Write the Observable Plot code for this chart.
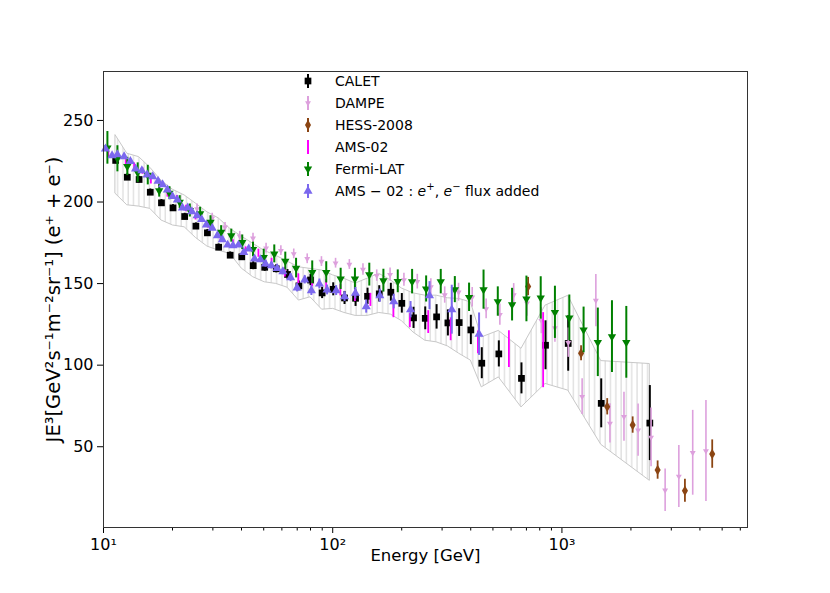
<!DOCTYPE html>
<html>
<head>
<meta charset="utf-8">
<script src="https://cdn.jsdelivr.net/npm/d3@7"></script>
<script src="https://cdn.jsdelivr.net/npm/@observablehq/plot@0.6"></script>
<style>
  html, body { margin: 0; padding: 0; background: #fff; }
  #chart { width: 830px; height: 593px; }
</style>
</head>
<body>
<div id="chart"></div>
<script>
// ---- CALET ----
const calE = [11.3,12.7,14.3,16.0,17.9,20.1,22.6,25.3,28.4,31.8,35.7,40.1,45.0,50.5,56.7,63.5,71.2,80.0,89.9,100.5,112.6,125.8,141.9,159.6,179.3,200.2,225.2,253.3,283.9,318,356.2,400.5,447,530.5,666,848,1065,1484,2418];
const calV = [225.5,215.2,213.8,206,199.5,196.4,191.1,185.2,181.1,172.3,167.4,166.4,161,160,159.1,155.6,148.6,152.2,144.3,146.5,141.2,141,142.2,143.7,144.7,137.9,129,128.7,129.6,125.9,126.1,121.6,101.2,106.9,91.9,112.2,113.3,76.6,64.5];
const calErr = [2,2,2,2,2,2,2,2,2,2,2,2,2.5,2.5,2.5,3,3,3.5,3.5,4,4,5,5,5,5.5,6,6.5,7,7.5,8,8.5,9,9.5,8,9.5,15,17,15,23];
// ---- CALET systematic band ----
const bandHi = [240.8,229.6,227.5,221,213,207.5,204,199,193.7,190,183.6,178.8,174.4,170,167,163.5,160,159,158,155,152.9,150,153,156,152,147,144,142.6,142.6,141,140.6,138.5,117,121,110,136.5,142.5,102.5,100.7];
const bandLo = [205,198,197.2,195.8,188.7,185.6,184.5,178,172.7,170.2,168.2,159.2,153.9,150.8,149.8,147.5,139.6,141.6,134,134.5,132,130.2,130.2,132,131,127,120,115,114,111.5,107,102.8,86.4,92.5,74.1,88.5,84.4,51.2,29.1];
// ---- DAMPE ----
const dampeE = [25.6,29.8,33.9,39.3,44.9,51.2,59.4,67.6,77.4,89.3,102.9,118.2,135.5,155.6,177.9,204.5,233.9,268,308,354,406,467,536,616,704,813,932,1066,1225,1406,1620,1865,2149,2448,2820,3236,3720,4249];
const dampeV = [195.8,190.1,184.5,179,177.8,171.7,170.2,168.2,165.2,163.5,162.5,161.7,158.6,154.9,155.5,152.3,151.2,148,143,144.7,141.6,134.5,131,143,138,127.3,122.8,113.8,80.7,139.6,64.3,68.4,60.2,55.7,23.3,31.8,46.3,47.4];
const dampeErr = [3,3,3,3,3,3,3,3,3,3,3,3,3.5,3.5,4,4,4.5,5,5,5.5,6,6,6.5,7,8,8,8.7,9,11,16,12,15,16,18,13,19,26,31];
// ---- HESS-2008 ----
const hessE = [712,1212,1576,2035,2615,3440,4525];
const hessV = [148.2,107.3,74.5,63.3,35.7,23,45.5];
const hessErr = [5.6,4.6,5,5,5.6,7,8.7];
// ---- AMS-02 ----
const amsE = [10.5,11.5,12.5,13.6,14.8,16.1,17.5,19.0,20.9,22.9,25.2,28.6,32.4,36.7,41.7,47.4,54.1,61.8,70.8,81.3,93.6,108,125,146,184,217,261,327,430,587,828];
const amsV = [229,226,224,222,219,213,209,205,202,196,191,186,178,174.4,170,168.6,163,157,153,151,149,146,143,140,133.4,127.3,126.4,122,114,109.8,109.2];
const amsErr = [2,2,2,2,2,2,2,2,2,2,2,2,2,2.5,2.5,2.5,2.5,3,3,3,3.5,3.5,4,4,4.3,4.3,7,7,7,11.3,23];
// ---- Fermi-LAT ----
const fermiE = [10.4,11.5,12.7,14.1,15.6,17.5,19.4,21.5,23.8,26.4,29.3,32.6,36.1,40.3,44.9,50.0,55.6,62.1,69.2,81.4,93.7,108.3,125,144.4,166.4,192.2,222,255.6,296,341,393.4,455,525,606,700,808,932,1077,1243,1434,1653,1909];
const fermiV = [233.2,226.5,221.8,218,216.5,207,205.4,199.9,194.8,192.8,187.6,181.5,179.4,175.3,170.9,166.1,168.2,163.8,159.5,156.9,156.9,152.9,152.9,155.5,151.8,151.4,151.2,146.7,151.2,146.3,141.6,146.3,139,137.1,140.6,141.2,132.4,129,121.6,114,117.5,114];
const fermiErr = [10,8,5.6,6,6,4,4,4,4,4,4,4,4,4.5,4.5,5,5.5,5.5,6,7,6.5,6.5,6.5,7,7,7,7.5,8,7.5,8,8.7,12,9,10,14,13,16,14,14,21,22,22];
// ---- AMS-02: e+, e- flux added ----
const sumE = [10.2,10.9,11.5,12.3,13.1,13.8,14.7,15.5,16.4,17.3,18.1,19.0,20.0,21.0,22.1,23.3,24.3,25.6,26.8,28.1,29.8,31.4,33.0,34.8,36.7,38.8,40.9,43.0,45.6,48.4,50.9,54.0,57.2,60.6,65.5,69.9,75.5,80.7,87.5,94.5,103.5,112.6,125.6,140,160.5,184.6,218.6,264.4,330.7,435];
const sumV = [232.6,228.5,229.1,227.9,225,220.4,219.3,216.7,215.6,212.8,210.7,207.5,203.4,201.3,196.4,196.4,194.2,191.7,189.3,186,184,179.4,177,173.7,173.3,173.7,169.2,171.3,165.2,164.7,162.1,161,159.4,157.4,153.7,147.4,152.3,145.7,149.8,146.1,145.7,142,144.1,135.9,142.6,139,134,142.6,134,119];
const sumErr = [1.5,1.5,1.5,1.5,1.5,1.5,1.5,1.5,1.5,1.5,1.5,1.5,1.5,1.5,1.5,1.5,1.5,1.5,1.5,1.5,1.5,1.5,1.5,1.5,1.5,1.5,1.5,1.5,1.5,1.5,2,2,2,2,2.5,2.5,2.5,3,3,3,3,3,3.5,4,4,4.5,5,8.6,15,13];

// axis ticks
const yTicks = [50,100,150,200,250];
const xMajor = [10,100,1000];
const xMajorLabels = ["10¹","10²","10³"];
const xMinor = [20,30,40,50,60,70,80,90,200,300,400,500,600,700,800,900,2000,3000,4000,5000,6000];

const legendLabels = ["CALET","DAMPE","HESS-2008","AMS-02","Fermi-LAT"];

const tbl = (E,V,Er) => E.map((e,i) => ({E:e, v:V[i], lo:V[i]-Er[i], hi:V[i]+Er[i]}));
const cal = tbl(calE,calV,calErr);
const band = calE.map((e,i) => ({E:e, lo:bandLo[i], hi:bandHi[i]}));
const dampe = tbl(dampeE,dampeV,dampeErr);
const hess = tbl(hessE,hessV,hessErr);
const ams = tbl(amsE,amsV,amsErr);
const fermi = tbl(fermiE,fermiV,fermiErr);
const sum = tbl(sumE,sumV,sumErr);

const C = {calet:"#000000", dampe:"#dda0dd", hess:"#8b4513", ams:"#ff00ff", fermi:"#008000", sum:"#7b68ee"};

const svg = Plot.plot({
  width: 830, height: 593,
  marginLeft: 103, marginRight: 83, marginTop: 71, marginBottom: 66,
  style: {fontFamily: "DejaVu Sans", fontSize: "15px", color: "#000", background: "#fff"},
  x: {type: "log", domain: [10, 6450]},
  y: {domain: [0.5, 280]},
  marks: [
    Plot.areaY(band, {x:"E", y1:"lo", y2:"hi", fill:"url(#hatch)", stroke:"#c8c8c8", strokeWidth:1}),
    Plot.ruleX(cal, {x:"E", y1:"lo", y2:"hi", stroke:C.calet, strokeWidth:2}),
    Plot.dot(cal, {x:"E", y:"v", symbol:"square", r:3.8, fill:C.calet}),
    Plot.ruleX(dampe, {x:"E", y1:"lo", y2:"hi", stroke:C.dampe, strokeWidth:1.6}),
    Plot.dot(dampe, {x:"E", y:"v", symbol:"triangle", rotate:180, r:2.2, fill:C.dampe}),
    Plot.ruleX(hess, {x:"E", y1:"lo", y2:"hi", stroke:C.hess, strokeWidth:1.8}),
    Plot.dot(hess, {x:"E", y:"v", symbol:"diamond", r:3.2, fill:C.hess}),
    Plot.ruleX(ams, {x:"E", y1:"lo", y2:"hi", stroke:C.ams, strokeWidth:1.8}),
    Plot.ruleX(fermi, {x:"E", y1:"lo", y2:"hi", stroke:C.fermi, strokeWidth:2}),
    Plot.dot(fermi, {x:"E", y:"v", symbol:"triangle", rotate:180, r:3.1, fill:C.fermi}),
    Plot.ruleX(sum, {x:"E", y1:"lo", y2:"hi", stroke:C.sum, strokeWidth:2}),
    Plot.dot(sum, {x:"E", y:"v", symbol:"triangle", r:3.4, fill:C.sum}),
    Plot.axisY({ticks: yTicks, tickSize: 6, tickPadding: 4, label: null, fontSize: 16, tickFormat: d => String(d)}),
    Plot.axisX({ticks: xMajor, tickSize: 6, tickPadding: 5, label: null, fontSize: 16, tickFormat: (d,i) => xMajorLabels[xMajor.indexOf(d)]}),
    Plot.axisX({ticks: xMinor, tickSize: 3.5, label: null, tickFormat: () => ""}),
    Plot.frame({stroke: "#333", strokeWidth: 1}),
    Plot.text(["Energy [GeV]"], {frameAnchor: "bottom", dy: 33, fontSize: 16.5, fill: "#000", textAnchor: "middle"}),
    Plot.text(["JE³[GeV²s⁻¹m⁻²sr⁻¹] (e⁺ + e⁻)"], {frameAnchor: "left", dx: -50, rotate: -90, fontSize: 19.5, fill: "#000", textAnchor: "middle"})
  ]
});

// hatch pattern for the band
const defs = d3.select(svg).insert("defs", ":first-child");
const pat = defs.append("pattern").attr("id","hatch").attr("patternUnits","userSpaceOnUse")
  .attr("width",5.3).attr("height",10);
pat.append("line").attr("x1",1).attr("x2",1).attr("y1",0).attr("y2",10)
  .attr("stroke","#c4c4c4").attr("stroke-width",0.8);

// legend
const lg = d3.select(svg).append("g").attr("font-family","DejaVu Sans").attr("font-size",14)
  .attr("text-anchor","start");
const rows = [
  {key:"calet", sym:d3.symbolSquare, size:45, rot:0},
  {key:"dampe", sym:d3.symbolTriangle, size:15, rot:180},
  {key:"hess", sym:d3.symbolDiamond, size:32, rot:0},
  {key:"ams", sym:null},
  {key:"fermi", sym:d3.symbolTriangle, size:30, rot:180},
  {key:"sum", sym:d3.symbolTriangle, size:36, rot:0}
];
const mx = 308, tx = 335, y0 = 81, dyRow = 22;
rows.forEach((r,i) => {
  const y = y0 + i*dyRow;
  lg.append("line").attr("x1",mx).attr("x2",mx).attr("y1",y-7).attr("y2",y+7)
    .attr("stroke",C[r.key]).attr("stroke-width",2);
  if (r.sym) {
    lg.append("path").attr("d", d3.symbol(r.sym, r.size)())
      .attr("transform",`translate(${mx},${y}) rotate(${r.rot})`).attr("fill",C[r.key]);
  }
  const t = lg.append("text").attr("x",tx).attr("y",y).attr("dy","0.35em").attr("fill","#000")
    .attr("text-anchor","start");
  if (i < 5) t.text(legendLabels[i]);
  else {
    t.append("tspan").text("AMS − 02 : ");
    t.append("tspan").attr("font-style","italic").text("e");
    t.append("tspan").attr("font-size",10).attr("dy",-6).text("+");
    t.append("tspan").attr("dy",6).text(", ");
    t.append("tspan").attr("font-style","italic").text("e");
    t.append("tspan").attr("font-size",10).attr("dy",-6).text("−");
    t.append("tspan").attr("dy",6).text(" flux added");
  }
});

document.getElementById("chart").appendChild(svg);
</script>
</body>
</html>
